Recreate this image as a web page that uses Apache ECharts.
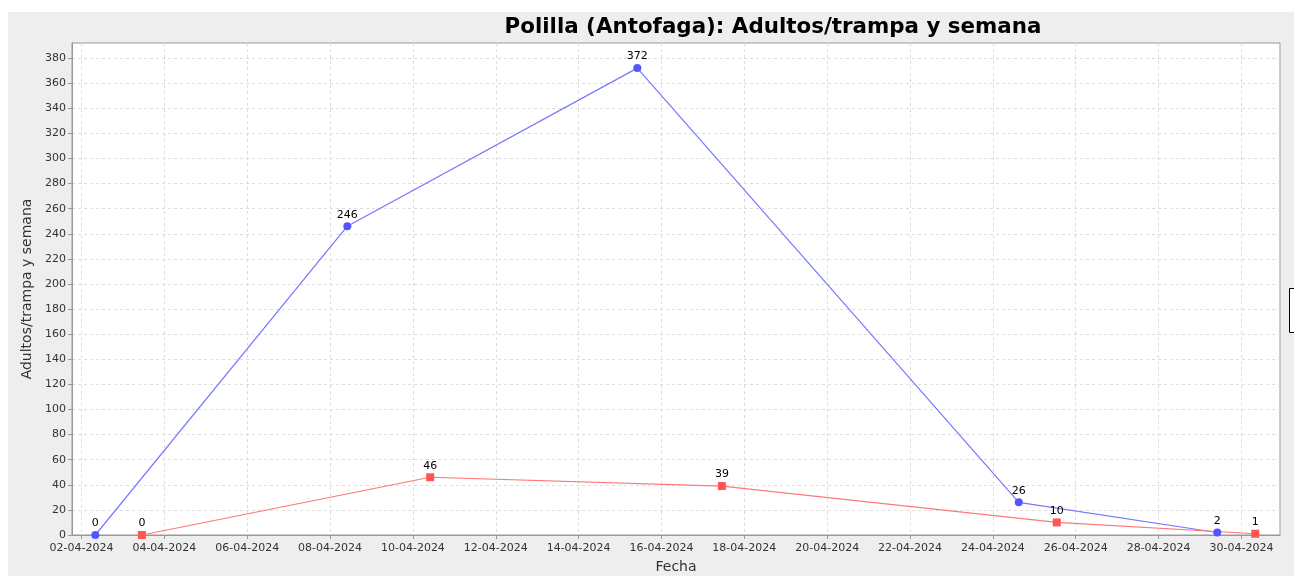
<!DOCTYPE html>
<html><head><meta charset="utf-8">
<script src="https://cdn.jsdelivr.net/npm/echarts@6/dist/echarts.min.js"></script>
<style>html,body{margin:0;padding:0;background:#fff}#c{width:1294px;height:576px}</style>
</head><body><div id="c"></div>
<script>
// Data
const titleText = 'Polilla (Antofaga): Adultos/trampa y semana';
const xName = 'Fecha';
const yName = 'Adultos/trampa y semana';
const blueDates = ['2024-04-02 08:00', '2024-04-08 10:00', '2024-04-15 10:00', '2024-04-24 15:00', '2024-04-29 10:00'];
const blueValues = [0, 246, 372, 26, 2];
const redDates = ['2024-04-03 11:00', '2024-04-10 10:00', '2024-04-17 11:00', '2024-04-25 13:00', '2024-04-30 08:00'];
const redValues = [0, 46, 39, 10, 1];
const xTickDates = ['2024-04-02','2024-04-04','2024-04-06','2024-04-08','2024-04-10','2024-04-12','2024-04-14','2024-04-16','2024-04-18','2024-04-20','2024-04-22','2024-04-24','2024-04-26','2024-04-28','2024-04-30'];
const yTicks = [0,20,40,60,80,100,120,140,160,180,200,220,240,260,280,300,320,340,360,380];
const xMinDate = '2024-04-01 18:30';
const xMaxDate = '2024-04-30 22:20';
const yMax = 392;

const DAY = 86400000;
function ts(s) {
  const [d, t] = s.split(' ');
  const [Y, M, D] = d.split('-').map(Number);
  let h = 0, m = 0;
  if (t) { [h, m] = t.split(':').map(Number); }
  return Date.UTC(Y, M - 1, D, h, m);
}
const origin = ts(xTickDates[0]);
function dayOf(s) { return (ts(s) - origin) / DAY; }
function fmt(v) {
  const d = new Date(origin + Math.round(v * DAY));
  const p = n => String(n).padStart(2, '0');
  return p(d.getUTCDate()) + '-' + p(d.getUTCMonth() + 1) + '-' + d.getUTCFullYear();
}
const xTicks = xTickDates.map(dayOf);
const font = 'DejaVu Sans';
const chart = echarts.init(document.getElementById('c'));
chart.setOption({
  animation: false,
  backgroundColor: '#eeeeee',
  textStyle: { fontFamily: font },
  title: {
    text: titleText, left: 768, top: 12, textAlign: 'center',
    textStyle: { fontFamily: font, fontSize: 21.4, fontWeight: 'bold', color: '#000' }
  },
  graphic: [
    { type: 'rect', left: 0, top: 0, shape: { width: 1294, height: 12 }, style: { fill: '#fff' }, silent: true },
    { type: 'rect', left: 0, top: 0, shape: { width: 8, height: 576 }, style: { fill: '#fff' }, silent: true },
    { type: 'rect', left: 1289, top: 288, shape: { width: 20, height: 44 }, style: { fill: '#fff', stroke: '#000', lineWidth: 1 }, silent: true }
  ],
  grid: { left: 72, top: 43, right: 14, bottom: 41, containLabel: false, outerBoundsMode: 'none', show: true, backgroundColor: '#fff', borderColor: '#999', borderWidth: 1 },
  xAxis: {
    type: 'value', min: dayOf(xMinDate), max: dayOf(xMaxDate),
    name: xName, nameLocation: 'middle', nameGap: 25,
    nameTextStyle: { fontFamily: font, fontSize: 14, color: '#333' },
    axisLine: { show: true, onZero: false, lineStyle: { color: '#999' } },
    axisTick: { show: true, length: 4, lineStyle: { color: '#999' }, customValues: xTicks },
    axisLabel: { customValues: xTicks, formatter: v => fmt(v), fontFamily: font, fontSize: 11, color: '#333', margin: 8 },
    splitLine: { show: true, lineStyle: { color: '#ddd', type: [3, 3] } }
  },
  yAxis: {
    type: 'value', min: 0, max: yMax,
    name: yName, nameLocation: 'middle', nameGap: 34, nameRotate: 90,
    nameTextStyle: { fontFamily: font, fontSize: 14, color: '#333' },
    axisLine: { show: true, onZero: false, lineStyle: { color: '#999' } },
    axisTick: { show: true, length: 4, lineStyle: { color: '#999' }, customValues: yTicks },
    axisLabel: { customValues: yTicks, fontFamily: font, fontSize: 11, color: '#333', margin: 6 },
    splitLine: { show: true, lineStyle: { color: '#ddd', type: [3, 3] } }
  },
  series: [
    {
      type: 'line', name: 'A', data: blueDates.map((d, i) => [dayOf(d), blueValues[i]]),
      symbol: 'circle', symbolSize: 8,
      lineStyle: { color: '#7777ff', width: 1.2 }, itemStyle: { color: '#5555ff' },
      label: { show: true, position: 'top', distance: 2, fontFamily: font, fontSize: 11, color: '#000' }
    },
    {
      type: 'line', name: 'B', data: redDates.map((d, i) => [dayOf(d), redValues[i]]),
      symbol: 'rect', symbolSize: 8,
      lineStyle: { color: '#ff7777', width: 1.2 }, itemStyle: { color: '#ff5555' },
      label: { show: true, position: 'top', distance: 2, fontFamily: font, fontSize: 11, color: '#000' }
    }
  ]
});
</script></body></html>
